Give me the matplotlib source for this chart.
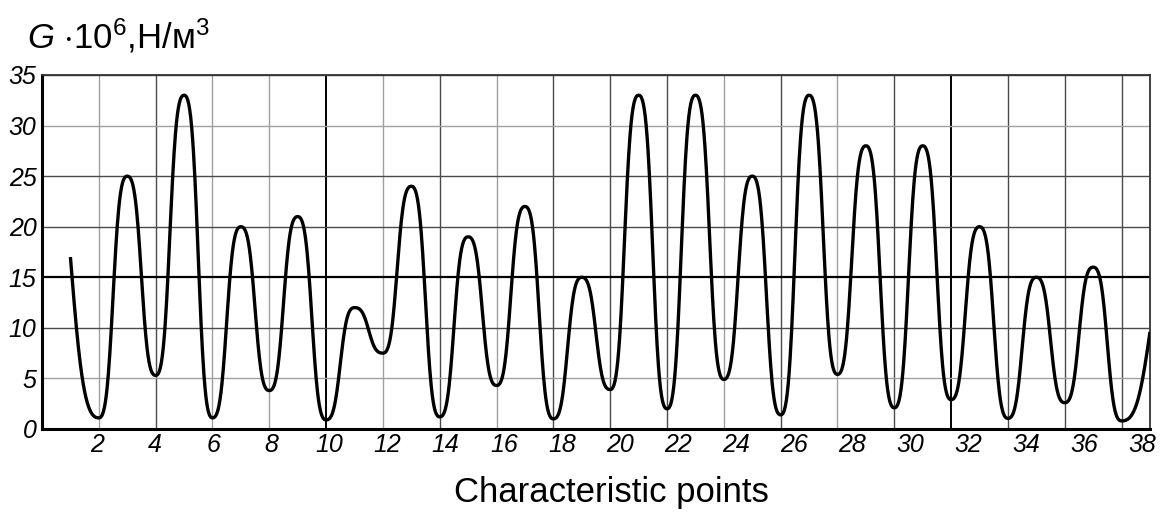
import numpy as np
import matplotlib
matplotlib.use('Agg')
import matplotlib.pyplot as plt

# characteristic points and stress values
points = np.arange(1, 40)
g_values = [17, 1.1, 25, 5.3, 33, 1.1, 20, 3.8, 21, 0.9,
            12, 7.5, 24, 1.2, 19, 4.3, 22, 1.0, 15, 3.9,
            33, 2.0, 33, 4.9, 25, 1.4, 33, 5.4, 28, 2.1,
            28, 2.9, 20, 1.05, 15, 2.6, 16, 0.8, 9.6]
x_tick_labels = list(range(2, 39, 2))
y_ticks = list(range(0, 36, 5))

plt.rcParams['font.family'] = ['Liberation Sans', 'DejaVu Sans']
plt.rcParams['mathtext.fontset'] = 'custom'
plt.rcParams['mathtext.rm'] = 'Liberation Sans'
plt.rcParams['mathtext.it'] = 'Liberation Sans:italic'


def ease(t, p=2.2):
    return t ** p / (t ** p + (1 - t) ** p)


# smooth curve through the points, flat at every extremum
xs, ys = [], []
y = np.asarray(g_values, dtype=float)
n = len(points)
for i in range(n - 1):
    t = np.linspace(0, 1, 60, endpoint=(i == n - 2))
    if i == 0:
        s = (ease(0.5 + 0.5 * t) - 0.5) / 0.5
    elif i == n - 2:
        s = ease(0.5 * t) / 0.5
    else:
        s = ease(t)
    xs.append(points[i] + t * (points[i + 1] - points[i]))
    ys.append(y[i] + s * (y[i + 1] - y[i]))
xs = np.concatenate(xs)
ys = np.concatenate(ys)

fig = plt.figure(figsize=(11.65, 5.14), dpi=100)
rect = [42 / 1165, 1 - 429 / 514, 1108 / 1165, 354 / 514]

# axis that carries the tick labels (drawn slightly out of step with the grid)
lab = fig.add_axes(rect, frameon=False)
lab.set_xlim(0.1, 38.25)
lab.set_xticks(x_tick_labels)
lab.set_xticklabels([str(v) for v in x_tick_labels], fontstyle='italic', fontsize=18)
lab.tick_params(axis='x', length=0, pad=3)
lab.set_yticks([])

ax = fig.add_axes(rect)
ax.patch.set_alpha(0)
ax.set_xlim(0, 39)
ax.set_ylim(0, 35)
ax.set_xticks(points[1::2])
ax.set_xticklabels([])
ax.set_yticks(y_ticks)
ax.set_yticklabels([str(v) for v in y_ticks], fontstyle='italic', fontsize=18)
ax.tick_params(axis='both', length=0)
ax.tick_params(axis='y', pad=4)

ax.grid(True, color='#4a4a4a', linewidth=1.0)
light_x = {2, 6, 8, 12, 16, 24, 28}
for val, gl in zip(ax.get_xticks(), ax.get_xgridlines()):
    if int(round(val)) in light_x:
        gl.set_color('#a0a0a0')
    if int(round(val)) in (10, 32):
        gl.set_color('black')
        gl.set_linewidth(1.4)
for val, gl in zip(ax.get_yticks(), ax.get_ygridlines()):
    if val in (5, 30):
        gl.set_color('#a0a0a0')
    if val == 15:
        gl.set_color('black')
        gl.set_linewidth(1.6)

for side in ('left', 'bottom'):
    ax.spines[side].set_linewidth(2.2)
    ax.spines[side].set_color('black')
for side in ('top', 'right'):
    ax.spines[side].set_linewidth(1.3)
    ax.spines[side].set_color('#333333')

ax.plot(xs, ys, color='black', linewidth=2.4, solid_capstyle='butt', zorder=3)

fig.text(27 / 1165, 1 - 48 / 514, r'$\mathit{G}$ $\cdot$10$^{6}$,Н/м$^{3}$',
         fontsize=25, va='baseline', ha='left')
fig.text(611 / 1165, 1 - 502 / 514, 'Characteristic points',
         fontsize=25, va='baseline', ha='center')

fig.savefig('out.png', dpi=100)
